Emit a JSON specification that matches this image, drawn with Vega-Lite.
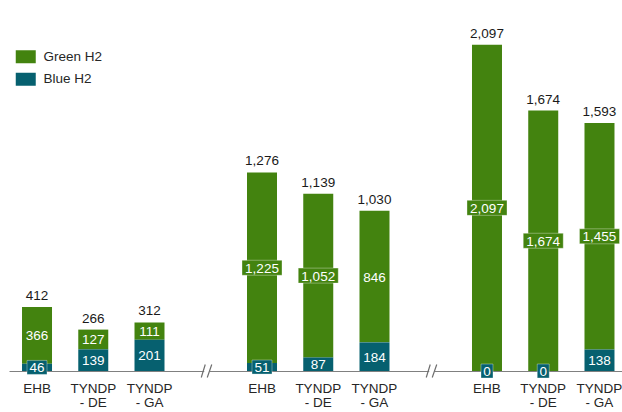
{
  "$schema": "https://vega.github.io/schema/vega-lite/v6.json",
  "autosize": "none",
  "width": 613,
  "height": 361,
  "padding": {"left": 9, "top": 10, "right": 0, "bottom": 41},
  "background": "white",
  "config": {
    "view": {"stroke": null},
    "font": "Liberation Sans",
    "text": {"font": "Liberation Sans"}
  },
  "datasets": {
    "segments": [
      {"slot": "p1/EHB", "type": "Green H2", "value": 366},
      {"slot": "p1/EHB", "type": "Blue H2", "value": 46},
      {"slot": "p1/TYNDP/- DE", "type": "Green H2", "value": 127},
      {"slot": "p1/TYNDP/- DE", "type": "Blue H2", "value": 139},
      {"slot": "p1/TYNDP/- GA", "type": "Green H2", "value": 111},
      {"slot": "p1/TYNDP/- GA", "type": "Blue H2", "value": 201},
      {"slot": "p2/EHB", "type": "Green H2", "value": 1225},
      {"slot": "p2/EHB", "type": "Blue H2", "value": 51},
      {"slot": "p2/TYNDP/- DE", "type": "Green H2", "value": 1052},
      {"slot": "p2/TYNDP/- DE", "type": "Blue H2", "value": 87},
      {"slot": "p2/TYNDP/- GA", "type": "Green H2", "value": 846},
      {"slot": "p2/TYNDP/- GA", "type": "Blue H2", "value": 184},
      {"slot": "p3/EHB", "type": "Green H2", "value": 2097},
      {"slot": "p3/EHB", "type": "Blue H2", "value": 0},
      {"slot": "p3/TYNDP/- DE", "type": "Green H2", "value": 1674},
      {"slot": "p3/TYNDP/- DE", "type": "Blue H2", "value": 0},
      {"slot": "p3/TYNDP/- GA", "type": "Green H2", "value": 1455},
      {"slot": "p3/TYNDP/- GA", "type": "Blue H2", "value": 138}
    ],
    "totals": [
      {"slot": "p1/EHB", "total": 412},
      {"slot": "p1/TYNDP/- DE", "total": 266},
      {"slot": "p1/TYNDP/- GA", "total": 312},
      {"slot": "p2/EHB", "total": 1276},
      {"slot": "p2/TYNDP/- DE", "total": 1139},
      {"slot": "p2/TYNDP/- GA", "total": 1030},
      {"slot": "p3/EHB", "total": 2097},
      {"slot": "p3/TYNDP/- DE", "total": 1674},
      {"slot": "p3/TYNDP/- GA", "total": 1593}
    ],
    "breaks": [
      {"slot": "gap1"},
      {"slot": "gap2"}
    ]
  },
  "encoding": {
    "x": {
      "field": "slot",
      "type": "nominal",
      "sort": null,
      "scale": {
        "domain": ["p1/EHB", "p1/TYNDP/- DE", "p1/TYNDP/- GA", "gap1", "p2/EHB", "p2/TYNDP/- DE", "p2/TYNDP/- GA", "gap2", "p3/EHB", "p3/TYNDP/- DE", "p3/TYNDP/- GA"],
        "paddingInner": 0.4667,
        "paddingOuter": 0.1825,
        "align": 0.634
      },
      "axis": {
        "title": null,
        "ticks": false,
        "grid": false,
        "domain": true,
        "domainColor": "#808080",
        "domainWidth": 1,
        "labelAngle": 0,
        "labelFontSize": 13.5,
        "labelColor": "#262626",
        "labelPadding": 10.5,
        "labelLineHeight": 14,
        "labelExpr": "slice(split(datum.value, '/'), 1)"
      }
    }
  },
  "layer": [
    {
      "data": {"name": "segments"},
      "mark": {"type": "bar"},
      "encoding": {
        "y": {
          "field": "value",
          "type": "quantitative",
          "stack": "zero",
          "scale": {"domain": [0, 2320], "nice": false, "zero": true},
          "axis": null
        },
        "order": {"field": "type", "sort": "ascending"},
        "color": {
          "field": "type",
          "type": "nominal",
          "scale": {"domain": ["Green H2", "Blue H2"], "range": ["#43830f", "#06606f"]},
          "legend": {
            "title": null,
            "orient": "none",
            "legendX": 10,
            "legendY": 40,
            "symbolType": "M-10,-6.5H10V6.5H-10Z",
            "symbolSize": 4,
            "symbolStrokeWidth": 0,
            "labelOffset": 11,
            "labelFontSize": 13.5,
            "labelColor": "#262626",
            "rowPadding": 7.5,
            "padding": 0
          }
        }
      }
    },
    {
      "data": {"name": "segments"},
      "mark": {"type": "point", "filled": true, "size": 4, "stroke": "white", "strokeWidth": 1, "strokeOpacity": 0.35},
      "encoding": {
        "y": {"field": "value", "type": "quantitative", "stack": "zero", "bandPosition": 0.5},
        "detail": {"field": "type"},
        "order": {"field": "type", "sort": "ascending"},
        "fill": {
          "field": "type",
          "type": "nominal",
          "scale": {"domain": ["Green H2", "Blue H2"], "range": ["#43830f", "#06606f"]},
          "legend": null
        },
        "shape": {
          "condition": [
            {"test": "datum.value < 10", "value": "M-6,-7H6V7H-6Z"},
            {"test": "datum.value < 100", "value": "M-10,-7H10V7H-10Z"}
          ],
          "value": "M-20,-7.5H20V7.5H-20Z"
        },
        "opacity": {
          "condition": {"test": "datum.value < 60 || datum.value >= 1000", "value": 1},
          "value": 0
        }
      }
    },
    {
      "data": {"name": "segments"},
      "mark": {"type": "text", "color": "white", "fontSize": 13.5, "baseline": "middle", "dy": 1},
      "encoding": {
        "y": {"field": "value", "type": "quantitative", "stack": "zero", "bandPosition": 0.5},
        "detail": {"field": "type"},
        "order": {"field": "type", "sort": "ascending"},
        "text": {"field": "value", "type": "quantitative", "format": ","}
      }
    },
    {
      "data": {"name": "totals"},
      "mark": {"type": "text", "color": "#1a1a1a", "fontSize": 13.5, "baseline": "middle", "dy": -11},
      "encoding": {
        "y": {"field": "total", "type": "quantitative"},
        "text": {"field": "total", "type": "quantitative", "format": ","}
      }
    },
    {
      "data": {"name": "breaks"},
      "mark": {"type": "point", "filled": true, "size": 4, "color": "white", "strokeWidth": 0, "opacity": 1, "shape": "M-1.5,-2H4V2H-1.5Z"},
      "encoding": {
        "y": {"datum": 0, "type": "quantitative"}
      }
    },
    {
      "data": {"name": "breaks"},
      "mark": {"type": "point", "filled": false, "size": 4, "stroke": "#6f6f6f", "strokeWidth": 1.2, "opacity": 1, "shape": "M-4.5,6.5L-0.5,-6.5M1.5,6.5L6,-6.5"},
      "encoding": {
        "y": {"datum": 0, "type": "quantitative"}
      }
    }
  ]
}
